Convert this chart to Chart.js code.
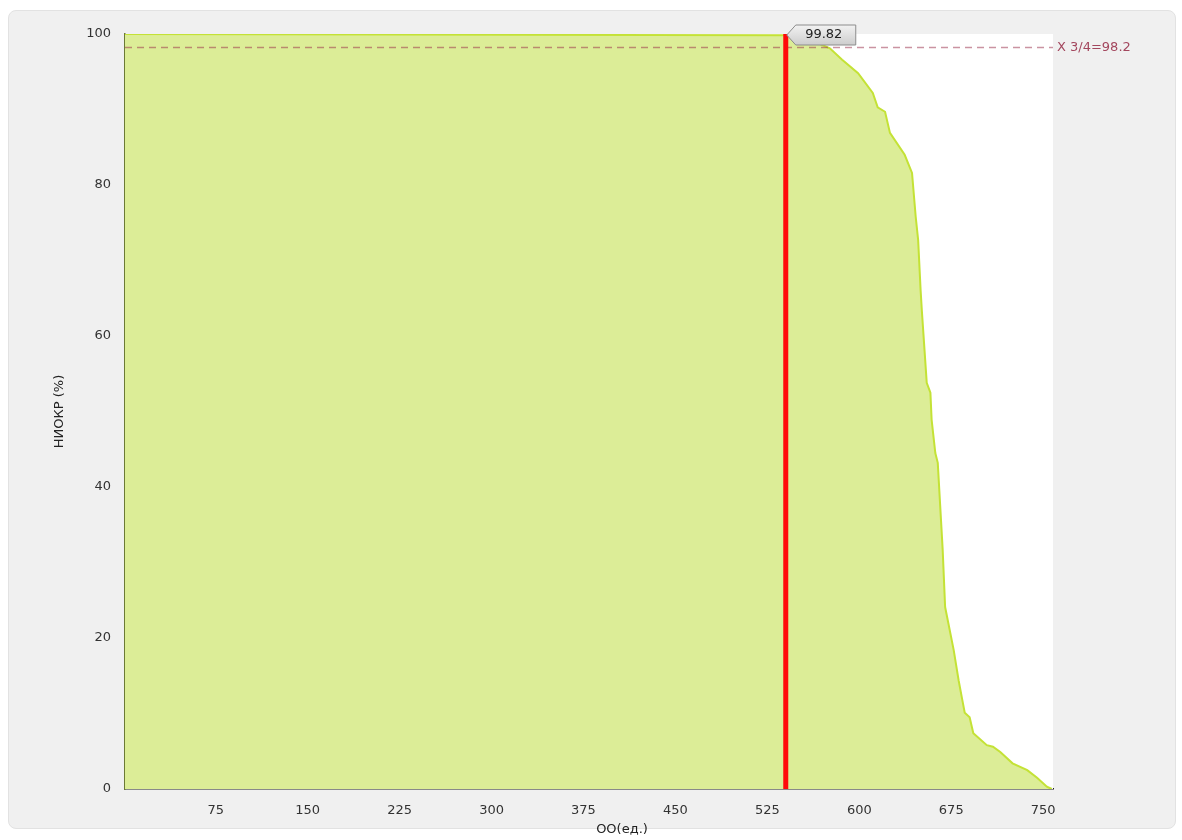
<!DOCTYPE html>
<html>
<head>
<meta charset="utf-8">
<script src="https://cdn.jsdelivr.net/npm/chart.js@4"></script>
<style>
  html, body { margin: 0; padding: 0; background: #ffffff; }
  #panel {
    position: absolute; left: 8px; top: 10px; width: 1166px; height: 817px;
    background: #f0f0f0; border: 1px solid #e2e2e2; border-radius: 8px;
  }
  #wrap { position: absolute; left: 0; top: 0; width: 1182px; height: 840px; }
</style>
</head>
<body>
<div id="panel"></div>
<div id="wrap"><canvas id="oochart"></canvas></div>
<script>
// данные кривой (ОО, НИОКР %)
const ooValues = [1, 540, 548, 556, 566, 576, 586, 599, 611, 615, 621, 625, 637, 643, 646, 648, 650, 651, 655, 658, 659, 662, 664, 668, 670, 677, 681, 684, 686, 690, 693, 704, 709, 715, 725, 737, 745, 753, 757];
const niokrValues = [100, 99.82, 99.6, 99.3, 98.8, 98.1, 96.6, 94.8, 92.2, 90.3, 89.7, 86.9, 84.0, 81.6, 75.8, 72.7, 66.1, 63.4, 53.8, 52.5, 48.9, 44.5, 43.2, 31.7, 24.1, 18.4, 14.4, 11.8, 10.1, 9.5, 7.4, 5.8, 5.6, 4.9, 3.4, 2.5, 1.5, 0.3, 0];

const markerOO = 540;        // красная вертикальная линия
const markerValue = 99.82;   // значение на метке
const quartileValue = 98.2;  // X 3/4
const quartileLabel = 'X 3/4=98.2';
const xTitle = 'OO(ед.)';
const xTicks = [75, 150, 225, 300, 375, 450, 525, 600, 675, 750];
const yTicks = [0, 20, 40, 60, 80, 100];
const xRange = [1, 758];

const FONT = 'DejaVu Sans';

// белый фон области построения
const plotBg = {
  id: 'plotBg',
  beforeDatasetsDraw(chart) {
    const a = chart.chartArea, c = chart.ctx;
    c.save();
    c.fillStyle = '#ffffff';
    c.fillRect(a.left, a.top, a.right - a.left, a.bottom - a.top);
    c.restore();
  }
};

// подписи: метка 99.82, X 3/4 и подпись оси X
const labels = {
  id: 'labels',
  afterDraw(chart) {
    const c = chart.ctx, xs = chart.scales.x, ys = chart.scales.y;
    c.save();
    c.textBaseline = 'middle';

    // подпись оси X (смещена вправо, как в оригинале)
    c.font = '13px ' + FONT;
    c.fillStyle = '#222';
    c.textAlign = 'center';
    c.fillText(xTitle, 622, 830);

    // X 3/4
    c.fillStyle = '#a3475e';
    c.textAlign = 'left';
    c.fillText(quartileLabel, chart.chartArea.right + 4, ys.getPixelForValue(quartileValue));

    // выноска 99.82
    const px = xs.getPixelForValue(markerOO) + 1;
    const py = ys.getPixelForValue(100) + 1;
    const bx = px + 9, bw = 60, bh = 20, by = py - 10;
    const g = c.createLinearGradient(0, by, 0, by + bh);
    g.addColorStop(0, '#f2f2f2');
    g.addColorStop(1, '#cdcdcd');
    c.beginPath();
    c.moveTo(px, py);
    c.lineTo(bx, by);
    c.lineTo(bx + bw, by);
    c.lineTo(bx + bw, by + bh);
    c.lineTo(bx, by + bh);
    c.closePath();
    c.fillStyle = g;
    c.fill();
    c.strokeStyle = '#8c8c8c';
    c.lineWidth = 1;
    c.stroke();
    c.fillStyle = '#222';
    c.textAlign = 'center';
    c.fillText(markerValue.toFixed(2), bx + bw / 2 - 2, by + bh / 2);
    c.restore();
  }
};

new Chart(document.getElementById('oochart'), {
  type: 'line',
  data: {
    datasets: [
      {
        label: 'НИОКР',
        data: ooValues.map((v, i) => ({ x: v, y: niokrValues[i] })),
        borderColor: '#c4e236',
        backgroundColor: '#dced97',
        borderWidth: 2,
        fill: 'origin',
        pointRadius: 0,
        tension: 0,
        order: 3
      },
      {
        label: 'X 3/4',
        data: [{ x: xRange[0], y: quartileValue }, { x: xRange[1], y: quartileValue }],
        borderColor: 'rgba(150, 40, 70, 0.5)',
        borderWidth: 1.5,
        borderDash: [7, 5],
        pointRadius: 0,
        fill: false,
        order: 2
      },
      {
        label: 'marker',
        data: [{ x: markerOO, y: 0 }, { x: markerOO, y: 100 }],
        borderColor: '#ff0a0a',
        borderWidth: 5,
        pointRadius: 0,
        fill: false,
        order: 1
      }
    ]
  },
  options: {
    responsive: true,
    maintainAspectRatio: false,
    animation: false,
    events: [],
    layout: { padding: { top: 34, right: 129, left: 52, bottom: 0 } },
    plugins: {
      legend: { display: false },
      tooltip: { enabled: false }
    },
    scales: {
      x: {
        type: 'linear',
        min: xRange[0],
        max: xRange[1],
        afterBuildTicks: s => { s.ticks = xTicks.map(v => ({ value: v })); },
        afterFit: s => { s.height = 51; },
        grid: { display: false, drawOnChartArea: false, drawTicks: true, tickLength: 8, tickColor: '#222' },
        border: { display: true, color: '#222', width: 1.5 },
        ticks: { color: '#333', font: { family: FONT, size: 13 }, padding: 6, maxRotation: 0 },
        title: { display: false }
      },
      y: {
        type: 'linear',
        min: 0,
        max: 100,
        afterBuildTicks: s => { s.ticks = yTicks.map(v => ({ value: v })); },
        afterFit: s => { s.width = 73; },
        grid: { display: false, drawOnChartArea: false, drawTicks: true, tickLength: 10, tickColor: '#222' },
        border: { display: true, color: '#6b7a35', width: 1.5 },
        ticks: { color: '#333', font: { family: FONT, size: 13 }, padding: 4 },
        title: {
          display: true,
          text: 'НИОКР (%)',
          color: '#222',
          font: { family: FONT, size: 13 },
          padding: { top: 0, bottom: 0 }
        }
      }
    }
  },
  plugins: [plotBg, labels]
});
</script>
</body>
</html>
